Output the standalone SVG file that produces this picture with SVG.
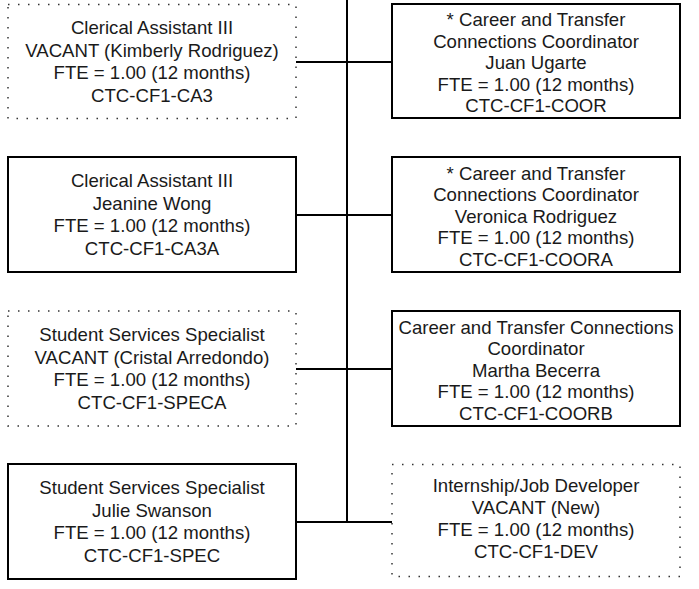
<svg xmlns="http://www.w3.org/2000/svg" width="699" height="589" viewBox="0 0 699 589">
<style>
.box{fill:#fff;stroke:#000;stroke-width:2}
.vac{fill:#fff;stroke:#333;stroke-width:1.5;stroke-dasharray:1.5 8.5}
.t{font-family:"Liberation Sans",Arial,sans-serif;font-size:18.6px;fill:#1a1a1a;text-anchor:middle}
.c{stroke:#000;stroke-width:2;fill:none}
</style>
<rect width="699" height="589" fill="#fff"/>
<g id="connectors">
<line class="c" x1="347" y1="0" x2="347" y2="522"/>
<line class="c" x1="296" y1="62" x2="392" y2="62"/>
<line class="c" x1="296" y1="215" x2="392" y2="215"/>
<line class="c" x1="296" y1="369" x2="392" y2="369"/>
<line class="c" x1="296" y1="522" x2="392" y2="522"/>
</g>
<g id="ca3">
<rect class="vac" x="8" y="4.5" width="288" height="114"/>
<text class="t" x="152" y="34">Clerical Assistant III</text>
<text class="t" x="152" y="56.5">VACANT (Kimberly Rodriguez)</text>
<text class="t" x="152" y="79">FTE = 1.00 (12 months)</text>
<text class="t" x="152" y="101.5">CTC-CF1-CA3</text>
</g>
<g id="coor">
<rect class="box" x="392" y="4" width="288" height="114"/>
<text class="t" x="536" y="26">* Career and Transfer</text>
<text class="t" x="536" y="47.5">Connections Coordinator</text>
<text class="t" x="536" y="69">Juan Ugarte</text>
<text class="t" x="536" y="90.5">FTE = 1.00 (12 months)</text>
<text class="t" x="536" y="112">CTC-CF1-COOR</text>
</g>
<g id="ca3a">
<rect class="box" x="8" y="157" width="288" height="115"/>
<text class="t" x="152" y="187">Clerical Assistant III</text>
<text class="t" x="152" y="209.5">Jeanine Wong</text>
<text class="t" x="152" y="232">FTE = 1.00 (12 months)</text>
<text class="t" x="152" y="254.5">CTC-CF1-CA3A</text>
</g>
<g id="coora">
<rect class="box" x="392" y="157" width="288" height="115"/>
<text class="t" x="536" y="179.5">* Career and Transfer</text>
<text class="t" x="536" y="201">Connections Coordinator</text>
<text class="t" x="536" y="222.5">Veronica Rodriguez</text>
<text class="t" x="536" y="244">FTE = 1.00 (12 months)</text>
<text class="t" x="536" y="265.5">CTC-CF1-COORA</text>
</g>
<g id="speca">
<rect class="vac" x="8" y="311" width="288" height="115"/>
<text class="t" x="152" y="341">Student Services Specialist</text>
<text class="t" x="152" y="363.5">VACANT (Cristal Arredondo)</text>
<text class="t" x="152" y="386">FTE = 1.00 (12 months)</text>
<text class="t" x="152" y="408.5">CTC-CF1-SPECA</text>
</g>
<g id="coorb">
<rect class="box" x="392" y="311" width="288" height="115"/>
<text class="t" x="536" y="333.5">Career and Transfer Connections</text>
<text class="t" x="536" y="355">Coordinator</text>
<text class="t" x="536" y="376.5">Martha Becerra</text>
<text class="t" x="536" y="398">FTE = 1.00 (12 months)</text>
<text class="t" x="536" y="419.5">CTC-CF1-COORB</text>
</g>
<g id="spec">
<rect class="box" x="8" y="464" width="288" height="115"/>
<text class="t" x="152" y="494">Student Services Specialist</text>
<text class="t" x="152" y="516.5">Julie Swanson</text>
<text class="t" x="152" y="539">FTE = 1.00 (12 months)</text>
<text class="t" x="152" y="561.5">CTC-CF1-SPEC</text>
</g>
<g id="dev">
<rect class="vac" x="392" y="464.5" width="288" height="112"/>
<text class="t" x="536" y="492">Internship/Job Developer</text>
<text class="t" x="536" y="514">VACANT (New)</text>
<text class="t" x="536" y="536">FTE = 1.00 (12 months)</text>
<text class="t" x="536" y="558">CTC-CF1-DEV</text>
</g>
</svg>
